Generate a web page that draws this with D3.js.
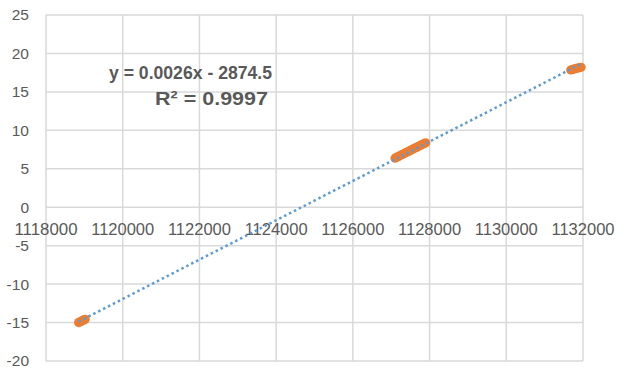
<!DOCTYPE html>
<html>
<head>
<meta charset="utf-8">
<script src="https://cdn.jsdelivr.net/npm/d3@7"></script>
<style>
  body { margin: 0; background: #fff; }
  text { font-family: "Liberation Sans", Arial, sans-serif; fill: #595959; }
</style>
</head>
<body>
<svg id="canvas" width="620" height="373"></svg>
<script>
// data: three clusters of points
let xValues = [
  1118850, 1118880, 1118910, 1118940, 1118970, 1119000, 1119020,
  1127100, 1127140, 1127180, 1127220, 1127260, 1127300, 1127340, 1127380, 1127420, 1127460, 1127500,
  1127540, 1127580, 1127620, 1127660, 1127700, 1127740, 1127780, 1127820, 1127860, 1127900,
  1131680, 1131720, 1131760, 1131800, 1131850, 1131900, 1131950
];
let yValues = [
  -15.0, -14.93, -14.85, -14.78, -14.7, -14.63, -14.58,
  6.38, 6.49, 6.58, 6.69, 6.79, 6.88, 6.99, 7.09, 7.18, 7.29, 7.39,
  7.48, 7.59, 7.69, 7.78, 7.89, 7.99, 8.08, 8.19, 8.29, 8.38,
  17.85, 17.9, 17.97, 18.02, 18.08, 18.14, 18.2
];
let xTicks = [1118000, 1120000, 1122000, 1124000, 1126000, 1128000, 1130000, 1132000];
let yTicks = [-20, -15, -10, -5, 0, 5, 10, 15, 20, 25];
let trendLabels = ["y = 0.0026x - 2874.5", "R² = 0.9997"];

let canvas = d3.select("#canvas");

let points = xValues.map((x, i) => {
  return { x: x, y: yValues[i] };
});

let xScale = d3.scaleLinear()
               .domain([1118000, 1132000])
               .range([46, 583]);

let yScale = d3.scaleLinear()
               .domain([-20, 25])
               .range([361, 15]);

// gridlines
canvas.selectAll(".hgrid")
      .data(yTicks)
      .enter()
      .append("line")
      .attr("x1", xScale(1118000))
      .attr("x2", xScale(1132000))
      .attr("y1", (d) => yScale(d))
      .attr("y2", (d) => yScale(d))
      .attr("stroke", "#d9d9d9")
      .attr("stroke-width", 1.5);

canvas.selectAll(".vgrid")
      .data(xTicks)
      .enter()
      .append("line")
      .attr("x1", (d) => xScale(d))
      .attr("x2", (d) => xScale(d))
      .attr("y1", yScale(25))
      .attr("y2", yScale(-20))
      .attr("stroke", "#d9d9d9")
      .attr("stroke-width", 1.5);

// tick labels
canvas.selectAll(".ylab")
      .data(yTicks)
      .enter()
      .append("text")
      .attr("x", 29)
      .attr("y", (d) => yScale(d))
      .attr("dy", "0.35em")
      .attr("text-anchor", "end")
      .attr("font-size", 15.5)
      .text((d) => d);

canvas.selectAll(".xlab")
      .data(xTicks)
      .enter()
      .append("text")
      .attr("x", (d) => xScale(d))
      .attr("y", yScale(0) + 22)
      .attr("dy", "0.35em")
      .attr("text-anchor", "middle")
      .attr("font-size", 16)
      .attr("textLength", 63)
      .attr("lengthAdjust", "spacingAndGlyphs")
      .text((d) => d);

// points
canvas.selectAll(".pt")
      .data(points)
      .enter()
      .append("circle")
      .attr("cx", (d) => xScale(d.x))
      .attr("cy", (d) => yScale(d.y))
      .attr("r", 4.6)
      .attr("fill", "#ED7D31");

// linear trendline over the data range
let mx = d3.mean(xValues);
let my = d3.mean(yValues);
let slope = d3.sum(points, (d) => (d.x - mx) * (d.y - my)) / d3.sum(points, (d) => (d.x - mx) * (d.x - mx));
let intercept = my - slope * mx;
let xExtent = d3.extent(xValues);

canvas.append("line")
      .attr("x1", xScale(xExtent[0]))
      .attr("y1", yScale(slope * xExtent[0] + intercept))
      .attr("x2", xScale(xExtent[1]))
      .attr("y2", yScale(slope * xExtent[1] + intercept))
      .attr("stroke", "#5B9BD5")
      .attr("stroke-width", 2.5)
      .attr("stroke-dasharray", "2.5,3");

// equation label
canvas.append("text")
      .attr("x", 109)
      .attr("y", 79)
      .attr("font-size", 19)
      .attr("font-weight", "bold")
      .attr("textLength", 163)
      .attr("lengthAdjust", "spacingAndGlyphs")
      .text(trendLabels[0]);

canvas.append("text")
      .attr("x", 155)
      .attr("y", 104.5)
      .attr("font-size", 19)
      .attr("font-weight", "bold")
      .attr("textLength", 113)
      .attr("lengthAdjust", "spacingAndGlyphs")
      .text(trendLabels[1]);
</script>
</body>
</html>
